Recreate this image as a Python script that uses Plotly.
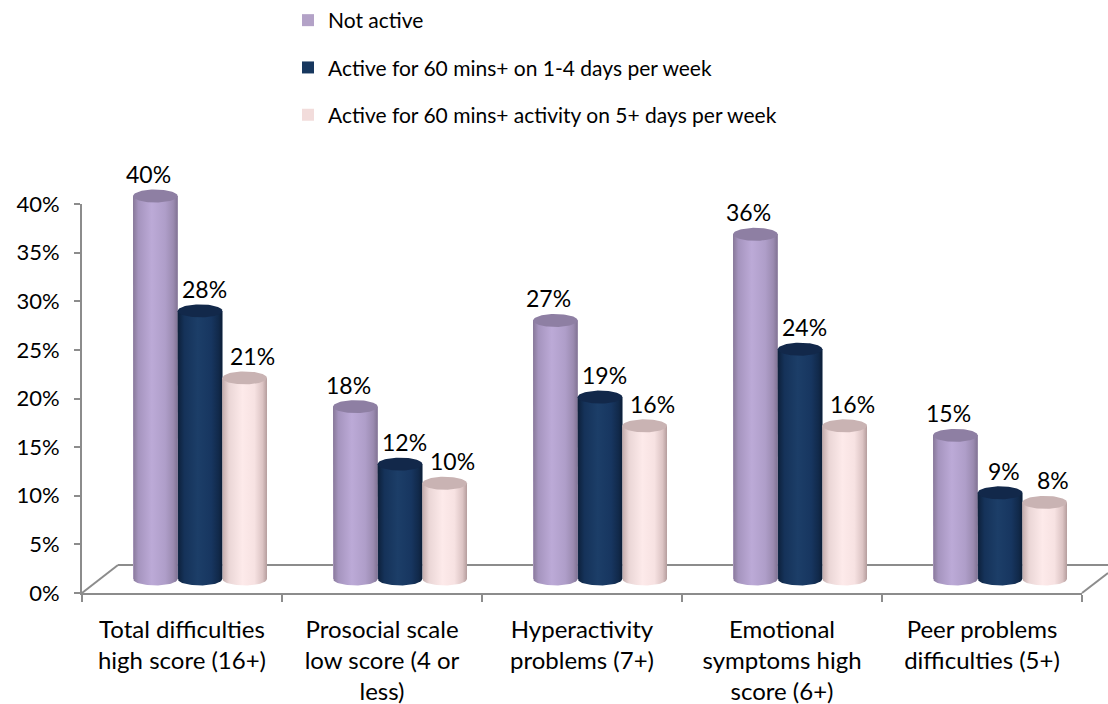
import numpy as np
import plotly.graph_objects as go

# ---- data -------------------------------------------------------------
categories = [
    "Total difficulties<br>high score (16+)",
    "Prosocial scale<br>low score (4 or<br>less)",
    "Hyperactivity<br>problems (7+)",
    "Emotional<br>symptoms high<br>score (6+)",
    "Peer problems<br>difficulties (5+)",
]
series_names = [
    "Not active",
    "Active for 60 mins+ on 1-4 days per week",
    "Active for 60 mins+ activity on 5+ days per week",
]
not_active = [0.40, 0.18, 0.27, 0.36, 0.15]
active_1_4_days = [0.28, 0.12, 0.19, 0.24, 0.09]
active_5_plus_days = [0.21, 0.10, 0.16, 0.16, 0.08]
y_ticks = [0, 0.05, 0.10, 0.15, 0.20, 0.25, 0.30, 0.35, 0.40]

# ---- styling ----------------------------------------------------------
W, H = 1108, 704
FONT = "Lato, 'Open Sans', sans-serif"
AXIS_GREY = "#8c8c8c"

base_colors = ["#B3A2C7", "#17375E", "#F2DCDB"]
body_scales = [
    [[0, "#877898"], [0.12, "#A594BE"], [0.42, "#BCAAD7"], [0.72, "#AF9EC9"],
     [0.9, "#9B8BB1"], [1, "#817393"]],
    [[0, "#0D203A"], [0.15, "#153259"], [0.45, "#1C3E68"], [0.75, "#173660"],
     [0.92, "#11294A"], [1, "#0C1E36"]],
    [[0, "#C2ABAB"], [0.15, "#EAD6D6"], [0.45, "#FDEAEA"], [0.72, "#F7E2E2"],
     [0.9, "#DCC4C4"], [1, "#B59D9D"]],
]
top_colors = ["#8E7FA3", "#12284A", "#C9B3B3"]
label_xshift = [-7, 4, 8]


def px_x(p):
    return p / W


def px_y(p):
    return 1 - p / H


# value axis used by the cylinders: 0 sits at y=579px, 1.0 spans 957.5px
Y2_ZERO, Y2_SCALE = 579.0, 957.5
y2_range = [-0.02, 0.42]
y2_dom = [px_y(Y2_ZERO - y2_range[0] * Y2_SCALE), px_y(Y2_ZERO - y2_range[1] * Y2_SCALE)]

n_cat = len(categories)
bar_w = 0.2233
ell_h = 6.5 / Y2_SCALE          # half height of the cylinder caps
theta_bot = np.linspace(np.pi, 2 * np.pi, 40)
theta_all = np.linspace(0, 2 * np.pi, 80)

fig = go.Figure()

all_series = [not_active, active_1_4_days, active_5_plus_days]
x_idx = list(range(n_cat))

# flat bar traces (give the legend entries and hover values)
for k, (name, vals) in enumerate(zip(series_names, all_series)):
    fig.add_trace(go.Bar(
        x=x_idx, y=vals, name=name, xaxis="x2", yaxis="y2",
        marker=dict(color=base_colors[k], line=dict(width=0)),
        width=bar_w, offset=(k - 1.5) * bar_w,
        legendgroup=name, hovertemplate="%{y:.0%}<extra>" + name + "</extra>",
    ))

# cylinder shading drawn over each bar
for k, vals in enumerate(all_series):
    for i, v in enumerate(vals):
        c = i + (k - 1) * bar_w
        hw = bar_w / 2
        bx = [c - hw, c - hw] + list(c + hw * np.cos(theta_bot)) + [c + hw, c - hw]
        by = [v, 0] + list(ell_h * np.sin(theta_bot)) + [v, v]
        fig.add_trace(go.Scatter(
            x=bx, y=by, xaxis="x2", yaxis="y2", mode="lines",
            line=dict(width=0), fill="toself",
            fillgradient=dict(type="horizontal", colorscale=body_scales[k]),
            hoverinfo="skip", showlegend=False,
        ))
        fig.add_trace(go.Scatter(
            x=list(c + hw * np.cos(theta_all)), y=list(v + ell_h * np.sin(theta_all)),
            xaxis="x2", yaxis="y2", mode="lines",
            line=dict(width=0), fill="toself", fillcolor=top_colors[k],
            hoverinfo="skip", showlegend=False,
        ))
        fig.add_annotation(
            x=c, y=v, xref="x2", yref="y2", text=f"{round(v * 100)}%",
            showarrow=False, yshift=22, xshift=label_xshift[k],
            font=dict(family=FONT, size=23, color="#000000"),
        )

# empty trace so the front (labelled) axes are drawn
fig.add_trace(go.Scatter(x=[None], y=[None], xaxis="x", yaxis="y",
                         mode="markers", showlegend=False, hoverinfo="skip"))

# floor of the 3-D box
floor = [
    ((118, 565), (1108, 565)),
    ((82, 593), (118, 565)),
    ((1082, 593), (1108, 573)),
]
for (x0, y0), (x1, y1) in floor:
    fig.add_shape(type="line", xref="paper", yref="paper",
                  x0=px_x(x0), y0=px_y(y0), x1=px_x(x1), y1=px_y(y1),
                  line=dict(color=AXIS_GREY, width=2), layer="below")

fig.update_layout(
    width=W, height=H,
    margin=dict(l=0, r=0, t=0, b=0, autoexpand=False),
    paper_bgcolor="white", plot_bgcolor="rgba(0,0,0,0)",
    font=dict(family=FONT, color="#000000"),
    barmode="overlay",
    showlegend=True,
    legend=dict(
        x=px_x(288), y=1.0, xanchor="left", yanchor="top",
        font=dict(family=FONT, size=21, color="#000000"),
        traceorder="grouped", tracegroupgap=17,
        bgcolor="rgba(0,0,0,0)",
    ),
    xaxis=dict(
        domain=[px_x(82), px_x(1082)], range=[-0.5, n_cat - 0.5],
        anchor="y", tickmode="array", tickvals=x_idx, ticktext=categories,
        ticks="", showgrid=False, zeroline=False, automargin=False,
        showline=True, linecolor=AXIS_GREY, linewidth=2,
        tickfont=dict(family=FONT, size=24, color="#000000"),
        ticklabelstandoff=14,
        minor=dict(tickmode="array", tickvals=[i - 0.5 for i in range(n_cat + 1)],
                   ticks="outside", ticklen=7, tickcolor=AXIS_GREY, tickwidth=2),
        fixedrange=True,
    ),
    yaxis=dict(
        domain=[px_y(593), px_y(204)], range=[0, 0.4], anchor="x",
        tickmode="array", tickvals=y_ticks, tickformat=".0%",
        ticks="outside", ticklen=6, tickcolor=AXIS_GREY, tickwidth=2,
        showgrid=False, zeroline=False, automargin=False,
        showline=True, linecolor=AXIS_GREY, linewidth=2,
        tickfont=dict(family=FONT, size=22, color="#000000"),
        ticklabelstandoff=10,
        fixedrange=True,
    ),
    xaxis2=dict(
        domain=[px_x(100), px_x(1100)], range=[-0.5, n_cat - 0.5], anchor="y2",
        visible=False, fixedrange=True, automargin=False,
    ),
    yaxis2=dict(
        domain=y2_dom, range=y2_range, anchor="x2",
        visible=False, fixedrange=True, automargin=False,
    ),
)

fig.write_html("out.html")
